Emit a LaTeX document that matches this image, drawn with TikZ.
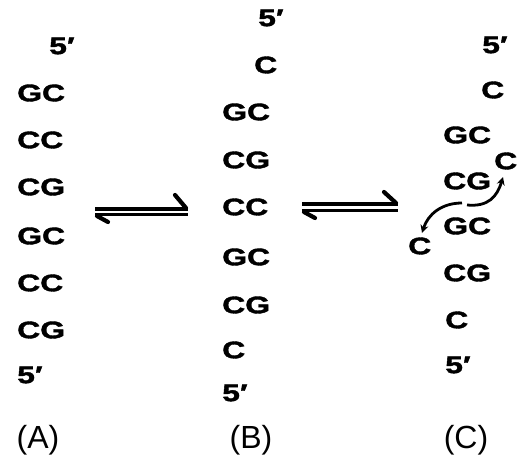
\documentclass[tikz,border=0pt]{standalone}
\usepackage{fontspec}
\setmainfont{Liberation Sans}
\newfontfamily\basefont[FakeStretch=1.33,FakeBold=1.6]{Liberation Sans Bold}
\usetikzlibrary{arrows.meta}
\tikzset{
  base/.style={anchor=west, inner sep=0pt, font=\basefont\fontsize{24}{24}\selectfont},
  lbl/.style={anchor=center, inner sep=0pt, font=\fontsize{32}{32}\selectfont},
  eqline/.style={line width=3.4pt},
  barb/.style={line width=4.2pt, line cap=round},
  curv/.style={line width=2.8pt, -{Stealth[length=8pt,width=8pt]}}
}
\begin{document}
\begin{tikzpicture}[x=1pt,y=-1pt]
\useasboundingbox (0,0) rectangle (517,470);
% column A
\node[base] (a0) at (49,46) {5′};
\node[base] (a1) at (17,93) {GC};
\node[base] (a2) at (17,140) {CC};
\node[base] (a3) at (17,187) {CG};
\node[base] (a4) at (17,236) {GC};
\node[base] (a5) at (17,283) {CC};
\node[base] (a6) at (17,330) {CG};
\node[base] (a7) at (17,375) {5′};
% column B
\node[base] (b0) at (258,18) {5′};
\node[base] (b1) at (254,65) {C};
\node[base] (b2) at (222,112) {GC};
\node[base] (b3) at (222,160) {CG};
\node[base] (b4) at (222,207) {CC};
\node[base] (b5) at (222,257) {GC};
\node[base] (b6) at (222,305) {CG};
\node[base] (b7) at (222,350) {C};
\node[base] (b8) at (222,393) {5′};
% column C
\node[base] (c0) at (482,45) {5′};
\node[base] (c1) at (481,90) {C};
\node[base] (c2) at (443,135) {GC};
\node[base] (c3) at (443,181) {CG};
\node[base] (c4) at (443,226) {GC};
\node[base] (c5) at (443,273) {CG};
\node[base] (c6) at (445,320) {C};
\node[base] (c7) at (445,365) {5′};
\node[base] (cr) at (494,161) {C};
\node[base] (cl) at (408,246) {C};
% curved arrows
\coordinate (sl) at (462,203);
\coordinate (sr) at (467,205);
\coordinate (el) at (422,233);
\coordinate (er) at (503,177);
\draw[curv] (sl) .. controls (442,203) and (428,214) .. (el);
\draw[curv] (sr) .. controls (488,207) and (497,197) .. (er);
% equilibrium arrows
\coordinate (p1a) at (95,209);
\coordinate (p1b) at (188,209);
\coordinate (q1a) at (95,214.5);
\coordinate (q1b) at (188,214.5);
\draw[eqline] (p1a) -- (p1b);
\draw[eqline] (q1a) -- (q1b);
\draw[barb] (186,208) -- (175,195);
\draw[barb] (97,216) -- (108,222);
\coordinate (p2a) at (302,204);
\coordinate (p2b) at (398,204);
\coordinate (q2a) at (302,210.5);
\coordinate (q2b) at (398,210.5);
\draw[eqline] (p2a) -- (p2b);
\draw[eqline] (q2a) -- (q2b);
\draw[barb] (396,203) -- (384,192);
\draw[barb] (304,212) -- (315,218);
% labels
\node[lbl] (la) at (38,440) {(A)};
\node[lbl] (lb) at (251,440) {(B)};
\node[lbl] (lc) at (466,440) {(C)};
\end{tikzpicture}
\end{document}
